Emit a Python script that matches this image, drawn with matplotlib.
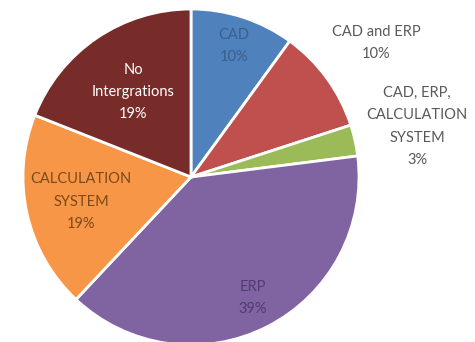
import numpy as np
import matplotlib
matplotlib.use("Agg")
from matplotlib import pyplot as plt

labels = ["CAD", "CAD and ERP", "CAD, ERP,\nCALCULATION\nSYSTEM", "ERP",
          "CALCULATION\nSYSTEM", "No\nIntergrations"]
shares = [10, 10, 3, 39, 19, 19]

colors = ["#4f81bd", "#c0504d", "#9bbb59", "#8064a2", "#f79646", "#772c2a"]
text_colors = ["#3b5f8c", "#595959", "#595959", "#4e3d6e", "#7a4a1c", "#ffffff"]
label_dist = [0.82, 1.36, 1.38, 0.81, 0.67, 0.61]

plt.rcParams['font.family'] = ['Lato', 'DejaVu Sans']

fig = plt.figure(figsize=(4.75, 3.42), dpi=100)
ax = fig.add_axes([0, 0, 1, 1])

wedges, _ = ax.pie(shares, colors=colors, startangle=90, counterclock=False,
                   radius=1.0, center=(0, 0),
                   wedgeprops=dict(edgecolor="white", linewidth=2))

for w, lab, val, d, tc in zip(wedges, labels, shares, label_dist, text_colors):
    mid = np.deg2rad((w.theta1 + w.theta2) / 2)
    x, y = d * np.cos(mid), d * np.sin(mid)
    ax.text(x, y, "{}\n{}%".format(lab, val), ha="center", va="center",
            color=tc, fontsize=10.5, linespacing=1.75)

# pixel-matched view: centre at (191, 177) px, radius 168 px
ax.set_xlim(-191 / 168, (475 - 191) / 168)
ax.set_ylim(-(342 - 177) / 168, 177 / 168)
ax.set_aspect("auto")
ax.axis("off")

fig.savefig("out.png", dpi=100)
